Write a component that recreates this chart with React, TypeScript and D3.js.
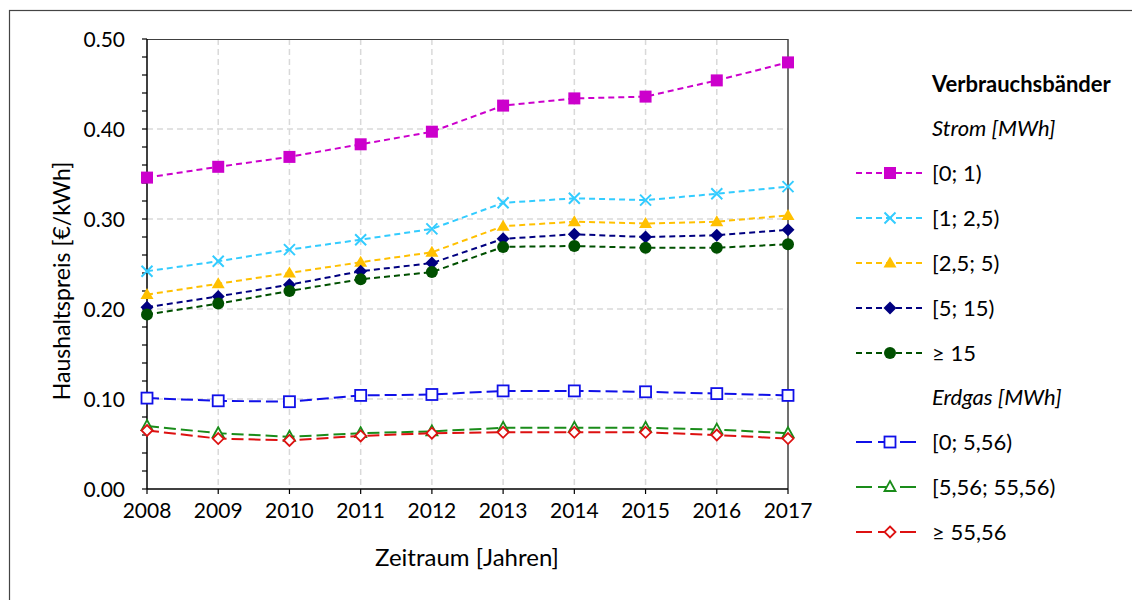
import React from "react";
import * as d3 from "d3";

const years = [2008, 2009, 2010, 2011, 2012, 2013, 2014, 2015, 2016, 2017];
const yTicks = [0, 0.1, 0.2, 0.3, 0.4, 0.5];

const strom01 = [0.346, 0.358, 0.369, 0.383, 0.397, 0.426, 0.434, 0.436, 0.454, 0.474];
const strom125 = [0.242, 0.253, 0.266, 0.277, 0.289, 0.318, 0.323, 0.321, 0.328, 0.336];
const strom255 = [0.216, 0.228, 0.240, 0.252, 0.263, 0.292, 0.297, 0.295, 0.297, 0.304];
const strom515 = [0.202, 0.214, 0.227, 0.242, 0.251, 0.278, 0.283, 0.280, 0.282, 0.288];
const strom15 = [0.194, 0.206, 0.220, 0.233, 0.241, 0.269, 0.270, 0.268, 0.268, 0.272];
const gas0 = [0.101, 0.098, 0.097, 0.104, 0.105, 0.109, 0.109, 0.108, 0.106, 0.104];
const gas556 = [0.070, 0.062, 0.058, 0.062, 0.064, 0.068, 0.068, 0.068, 0.066, 0.062];
const gas5556 = [0.065, 0.056, 0.054, 0.059, 0.062, 0.063, 0.063, 0.063, 0.060, 0.056];

type Series = { name: string; values: number[]; color: string; marker: string; gas: boolean };

const stromSeries: Series[] = [
  { name: "[0; 1)", values: strom01, color: "#CC00CC", marker: "square", gas: false },
  { name: "[1; 2,5)", values: strom125, color: "#33CCFF", marker: "x", gas: false },
  { name: "[2,5; 5)", values: strom255, color: "#FFC000", marker: "triangle", gas: false },
  { name: "[5; 15)", values: strom515, color: "#000080", marker: "diamond", gas: false },
  { name: "\u2265 15", values: strom15, color: "#005000", marker: "circle", gas: false },
];
const gasSeries: Series[] = [
  { name: "[0; 5,56)", values: gas0, color: "#1010E8", marker: "squareOpen", gas: true },
  { name: "[5,56; 55,56)", values: gas556, color: "#1A8C1A", marker: "triangleOpen", gas: true },
  { name: "\u2265 55,56", values: gas5556, color: "#DD1111", marker: "diamondOpen", gas: true },
];

const FONT = "Lato, 'Open Sans', sans-serif";

function Marker({ type, x, y, color }: { type: string; x: number; y: number; color: string }) {
  switch (type) {
    case "square":
      return <rect x={x - 6} y={y - 6} width={12} height={12} fill={color} />;
    case "squareOpen":
      return <rect x={x - 5.5} y={y - 5.5} width={11} height={11} fill="white" stroke={color} strokeWidth={1.8} />;
    case "x":
      return (
        <path d={`M${x - 5.5},${y - 5.5}L${x + 5.5},${y + 5.5}M${x - 5.5},${y + 5.5}L${x + 5.5},${y - 5.5}`} stroke={color} strokeWidth={2} />
      );
    case "triangle":
      return <path d={`M${x},${y - 6.5}L${x + 6.5},${y + 4.5}L${x - 6.5},${y + 4.5}Z`} fill={color} />;
    case "triangleOpen":
      return <path d={`M${x},${y - 6}L${x + 5.5},${y + 4}L${x - 5.5},${y + 4}Z`} fill="white" stroke={color} strokeWidth={1.8} />;
    case "diamond":
      return <path d={`M${x},${y - 6.5}L${x + 6.5},${y}L${x},${y + 6.5}L${x - 6.5},${y}Z`} fill={color} />;
    case "diamondOpen":
      return <path d={`M${x},${y - 5.5}L${x + 5.5},${y}L${x},${y + 5.5}L${x - 5.5},${y}Z`} fill="white" stroke={color} strokeWidth={1.8} />;
    case "circle":
      return <circle cx={x} cy={y} r={6} fill={color} />;
  }
  return null;
}

export default function App() {
  const W = 1132, H = 600;
  const left = 147, right = 788, top = 39, bottom = 489;
  const x = d3.scaleLinear().domain([2008, 2017]).range([left, right]);
  const y = d3.scaleLinear().domain([0, 0.5]).range([bottom, top]);
  const minor = d3.range(0, 0.5001, 0.02);
  const line = d3.line<number>().x((_, i) => x(years[i])).y((v) => y(v));

  const all = [...stromSeries, ...gasSeries];
  const legX = 932;
  const legLineX0 = 856, legLineX1 = 922, legMarkX = 890;

  const legendRows: { kind: string; text: string; y: number; s?: Series }[] = [];
  legendRows.push({ kind: "title", text: "Verbrauchsbänder", y: 84 });
  legendRows.push({ kind: "head", text: "Strom [MWh]", y: 128 });
  stromSeries.forEach((s, i) => legendRows.push({ kind: "entry", text: s.name, y: 173 + i * 45, s }));
  legendRows.push({ kind: "head", text: "Erdgas [MWh]", y: 397 });
  gasSeries.forEach((s, i) => legendRows.push({ kind: "entry", text: s.name, y: 442 + i * 45, s }));

  const TICK_FS = 21;
  const LEG_FS = 22;

  return (
    <svg width={W} height={H} style={{ position: "absolute", left: 0, top: 0, background: "white" }} fontFamily={FONT}>
      <rect x={0} y={0} width={W} height={H} fill="white" />
      <rect x={9.5} y={10.5} width={1140} height={600} fill="none" stroke="#444" strokeWidth={1.2} />
      {/* grid */}
      {yTicks.slice(1, -1).map((t) => (
        <line key={"gy" + t} x1={left} x2={right} y1={y(t)} y2={y(t)} stroke="#d9d9d9" strokeWidth={1.5} strokeDasharray="6,4" />
      ))}
      {years.slice(1, -1).map((yr) => (
        <line key={"gx" + yr} x1={x(yr)} x2={x(yr)} y1={top} y2={bottom} stroke="#d9d9d9" strokeWidth={1.5} strokeDasharray="6,4" />
      ))}
      {/* frame */}
      <line x1={left} x2={right} y1={top + 0.5} y2={top + 0.5} stroke="#404040" strokeWidth={1} />
      <line x1={right} x2={right} y1={top} y2={bottom} stroke="#404040" strokeWidth={1.5} />
      {/* axes */}
      <line x1={left} x2={left} y1={top} y2={bottom} stroke="black" strokeWidth={1.5} />
      <line x1={left} x2={right} y1={bottom} y2={bottom} stroke="black" strokeWidth={1.5} />
      {minor.map((t, i) => (
        <line key={"mt" + i} x1={left - 5} x2={left} y1={y(t)} y2={y(t)} stroke="black" strokeWidth={1.2} />
      ))}
      {years.map((yr) => (
        <line key={"xt" + yr} x1={x(yr)} x2={x(yr)} y1={bottom} y2={bottom + 5} stroke="black" strokeWidth={1.2} />
      ))}
      {yTicks.map((t) => (
        <text key={"yl" + t} x={125} y={y(t)} dy="0.36em" textAnchor="end" fontSize={TICK_FS} fill="black">
          {t.toFixed(2)}
        </text>
      ))}
      {years.map((yr) => (
        <text key={"xl" + yr} x={x(yr)} y={510} dy="0.36em" textAnchor="middle" fontSize={TICK_FS} fill="black">
          {yr}
        </text>
      ))}
      <text x={467} y={557} dy="0.36em" textAnchor="middle" fontSize={24} fill="black">
        Zeitraum [Jahren]
      </text>
      <text transform={`translate(62,281) rotate(-90)`} dy="0.36em" textAnchor="middle" fontSize={23} fill="black">
        Haushaltspreis [€/kWh]
      </text>
      {/* series */}
      {all.map((s) => (
        <g key={s.name}>
          <path
            d={line(s.values) || ""}
            fill="none"
            stroke={s.color}
            strokeWidth={2}
            strokeDasharray={s.gas ? "12,5" : "6,4"}
          />
          {s.values.map((v, i) => (
            <Marker key={i} type={s.marker} x={x(years[i])} y={y(v)} color={s.color} />
          ))}
        </g>
      ))}
      {/* legend */}
      {legendRows.map((r, i) => {
        if (r.kind === "title")
          return (
            <text key={i} x={legX} y={r.y} dy="0.36em" fontSize={LEG_FS} fontWeight="bold" fill="black">
              {r.text}
            </text>
          );
        if (r.kind === "head")
          return (
            <text key={i} x={legX} y={r.y} dy="0.36em" fontSize={LEG_FS} fontStyle="italic" fill="black">
              {r.text}
            </text>
          );
        const s = r.s!;
        return (
          <g key={i}>
            <line
              x1={legLineX0}
              x2={legLineX1}
              y1={r.y}
              y2={r.y}
              stroke={s.color}
              strokeWidth={2}
              strokeDasharray={s.gas ? "16,6" : "6,4"}
            />
            <Marker type={s.marker} x={legMarkX} y={r.y} color={s.color} />
            <text x={legX} y={r.y} dy="0.36em" fontSize={LEG_FS} fill="black">
              {r.text}
            </text>
          </g>
        );
      })}
    </svg>
  );
}
